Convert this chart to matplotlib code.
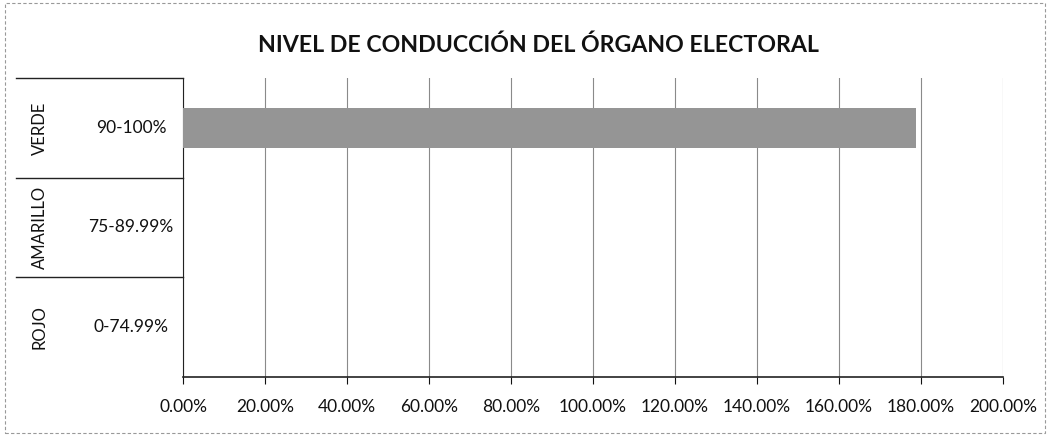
import matplotlib
matplotlib.use("Agg")
import matplotlib.pyplot as plt
from matplotlib.ticker import FuncFormatter
from matplotlib.transforms import blended_transform_factory
from matplotlib.patches import Rectangle

plt.rcParams['font.family'] = ['Lato', 'DejaVu Sans']

title = "NIVEL DE CONDUCCIÓN DEL ÓRGANO ELECTORAL"
groups = ["ROJO", "AMARILLO", "VERDE"]
ranges = ["0-74.99%", "75-89.99%", "90-100%"]
values = [0.0, 0.0, 178.7]
xticks = [0, 20, 40, 60, 80, 100, 120, 140, 160, 180, 200]

fig = plt.figure(figsize=(10.51, 4.36), dpi=100)
ax = fig.add_axes([183/1051, 1-377/436, 820/1051, 299/436])

ypos = list(range(len(groups)))
ax.barh(ypos, values, height=0.4, color='#959595', edgecolor='none', zorder=3)

ax.set_xlim(0, 200)
ax.set_ylim(-0.5, 2.5)
ax.set_xticks(xticks)
ax.xaxis.set_major_formatter(FuncFormatter(lambda v, p: f"{v:.2f}%"))
ax.set_yticks([])
ax.grid(axis='x', color='#8a8a8a', linewidth=0.8, zorder=0)
for s in ['top', 'right']:
    ax.spines[s].set_visible(False)
ax.spines['left'].set_color('#222222')
ax.spines['bottom'].set_color('#222222')
ax.spines['bottom'].set_linewidth(1.2)
ax.tick_params(axis='x', length=5, direction='out', labelsize=12.5, pad=11, colors='#111111')

tr = blended_transform_factory(ax.transAxes, ax.transData)
x0 = (16 - 183) / 820
for y in [0.5, 1.5, 2.5]:
    ax.plot([x0, 0], [y, y], transform=tr, color='#222222', lw=1.0, clip_on=False)
for y, g, r in zip(ypos, groups, ranges):
    ax.text((40 - 183) / 820, y, g, transform=tr, rotation=90, ha='center', va='center', fontsize=12, color='#111111')
    ax.text((131 - 183) / 820, y, r, transform=tr, ha='center', va='center', fontsize=12.5, color='#111111')

fig.text(538/1051, 1-45/436, title, ha='center', va='center', fontsize=16.7, fontweight='bold', color='#111111')

fig.patches.append(Rectangle((5/1051, 3/436), 1040/1051, 430/436, transform=fig.transFigure,
                             fill=False, edgecolor='#999999', lw=0.8, linestyle=(0, (3, 2))))

fig.savefig("out.png", dpi=100)
